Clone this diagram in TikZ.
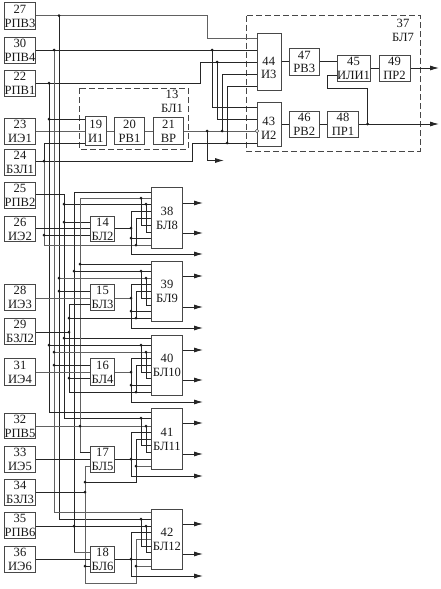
\documentclass[tikz,border=0pt]{standalone}
\usepackage{fontspec}
\setmainfont{Liberation Serif}
\usetikzlibrary{arrows.meta,calc}
\tikzset{
  wire/.style={line width=0.8pt,draw=black!85},
  gwire/.style={line width=1pt,draw=black!62},
  box/.style={draw=black!72,line width=1pt,anchor=north west,inner sep=0pt,align=center,
    font=\fontsize{12.6}{13.8}\selectfont,text=black!90},
  frame/.style={draw=black!72,line width=0.9pt,dash pattern=on 6pt off 3pt},
  lab/.style={inner sep=0pt,align=center,font=\fontsize{12.6}{13.8}\selectfont,text=black!90},
  dot/.style={circle,fill=black!90,draw=none,inner sep=0pt,minimum size=3pt},
  outarrow/.style={wire,-{Latex[length=9pt,width=5pt]}},
}
\newcommand{\mybox}[6]{\node[box,minimum width=#3,minimum height=#4] (#1) at (#2) {#5\\#6};}
\begin{document}
\begin{tikzpicture}[x=1pt,y=-1pt]
\useasboundingbox (0,0) rectangle (441,589);
% dashed frames
\draw[frame] (79,88) rectangle (188,149);
\draw[frame] (246.5,15.5) rectangle (420,151);
\node[lab] (l13) at (172,101) {13\\БЛ1};
\node[lab] (l37) at (403,30) {37\\БЛ7};
% left boxes
\mybox{b27}{4,2}{31}{27}{27}{РПВ3}
\mybox{b30}{4,37}{31}{26}{30}{РПВ4}
\mybox{b22}{4,70}{31}{26}{22}{РПВ1}
\mybox{b23}{4,118}{31}{26}{23}{ИЭ1}
\mybox{b24}{4,149}{31}{26}{24}{БЗЛ1}
\mybox{b25}{4,182}{31}{26}{25}{РПВ2}
\mybox{b26}{4,216}{31}{25}{26}{ИЭ2}
\mybox{b28}{4,284}{31}{26}{28}{ИЭ3}
\mybox{b29}{4,318}{31}{26}{29}{БЗЛ2}
\mybox{b31}{4,358}{31}{27}{31}{ИЭ4}
\mybox{b32}{4,413}{31}{25}{32}{РПВ5}
\mybox{b33}{4,446}{31}{26}{33}{ИЭ5}
\mybox{b34}{4,479}{31}{26}{34}{БЗЛ3}
\mybox{b35}{4,512}{31}{26}{35}{РПВ6}
\mybox{b36}{4,546}{31}{26}{36}{ИЭ6}
% top blocks
\mybox{b19}{84.5,116}{21.5}{29}{19}{И1}
\mybox{b20}{114,117}{30}{27}{20}{РВ1}
\mybox{b21}{153,117}{30}{27}{21}{ВР}
\node[box,minimum width=23.5,minimum height=57] (b44) at (257,33) {};
\node[lab] (t44) at (268.75,68) {44\\И3};
\node[box,minimum width=23.5,minimum height=44] (b43) at (257,102) {};
\node[lab] (t43) at (268.75,128) {43\\И2};
\mybox{b47}{289,48}{29.5}{27}{47}{РВ3}
\mybox{b46}{289,111}{29.5}{26}{46}{РВ2}
\mybox{b48}{327,111}{31}{26}{48}{ПР1}
\mybox{b45}{336.5,55}{33}{26}{45}{ИЛИ1}
\mybox{b49}{378.5,55}{31}{26}{49}{ПР2}
% small blocks
\mybox{b14}{90,216}{24}{25}{14}{БЛ2}
\mybox{b15}{90,284}{24}{26}{15}{БЛ3}
\mybox{b16}{90,358}{24}{27}{16}{БЛ4}
\mybox{b17}{90,446}{24}{26}{17}{БЛ5}
\mybox{b18}{90,546}{24}{26}{18}{БЛ6}
% large blocks
\mybox{b38}{151,187}{31}{61}{38}{БЛ8}
\mybox{b39}{151,261}{31}{60}{39}{БЛ9}
\mybox{b40}{151,335}{31}{60}{40}{БЛ10}
\mybox{b41}{151,408}{31}{61}{41}{БЛ11}
\mybox{b42}{151,509}{31}{60}{42}{БЛ12}
% upper wiring
\draw[gwire] (b27.east |- 0,15.7) -| (207,38.5) -- (b44.west |- 0,38.5);
\draw[wire] (b30.east |- 0,50) -- (b44.west |- 0,50);
\draw[wire] (b22.east |- 0,83) -| (200.5,62) -- (b44.west |- 0,62);
\draw[wire] (212,50) |- (b43.west |- 0,107);
\draw[wire] (217,62) |- (b43.west |- 0,119);
\draw[gwire] (b23.east |- 0,131) -- (b19.west |- 0,131);
\draw[gwire] (b19.east |- 0,131) -- (b20.west |- 0,131);
\draw[gwire] (b20.east |- 0,131) -- (b21.west |- 0,131);
\draw[gwire] (b21.east |- 0,131) -- (b43.west |- 0,131);
\draw[wire] (b24.east |- 0,161) -| (192,143) -- (b43.west |- 0,143);
\draw[wire] (222,131) |- (b44.west |- 0,74.5);
\draw[wire] (227,143) |- (b44.west |- 0,86);
\draw[outarrow] (207,131) |- (224,160.5);
\draw[wire] (b44.east |- 0,61) -- (b47.west |- 0,61);
\draw[wire] (b47.east |- 0,61) -- (b45.west |- 0,61);
\draw[wire] (b45.east |- 0,68) -- (b49.west |- 0,68);
\draw[outarrow] (b49.east |- 0,68) -- (439,68);
\draw[wire] (b43.east |- 0,124) -- (b46.west |- 0,124);
\draw[wire] (b46.east |- 0,124) -- (b48.west |- 0,124);
\draw[outarrow] (b48.east |- 0,124) -- (439,124);
\draw[wire] (367.5,124) -- (367.5,88) -- (327.5,88) -- (327.5,75) -- (b45.west |- 0,75);
\node[circle,draw=black!70,fill=white,line width=0.6pt,inner sep=0pt,minimum size=3.6pt] (inv) at (257,131) {};
% buses
\draw[wire] (59,15.7) |- (b42.west |- 0,519);
\draw[gwire] (54,50) |- (b42.west |- 0,512);
\draw[wire] (49,83) |- (b41.west |- 0,412);
\draw[wire] (49,119) -- (b19.west |- 0,119);
\draw[wire] (44,161) -- (44,143) -- (b19.west |- 0,143);
\draw[gwire] (44,161) |- (b38.west |- 0,245);
\draw[wire] (44,235) -- (b14.west |- 0,235);
\draw[wire] (b25.east |- 0,194) -| (64,418) -- (b41.west |- 0,418);
\draw[wire] (64,204) -- (b38.west |- 0,204);
\draw[wire] (64,222) -- (b14.west |- 0,222);
\draw[wire] (64,338) -- (b40.west |- 0,338);
\draw[wire] (b26.east |- 0,228) -- (b14.west |- 0,228);
\draw[wire] (74,552) -- (74,192) -- (b38.west |- 0,192);
\draw[gwire] (b18.west |- 0,552) -- (74,552);
\draw[gwire] (80,452) -- (80,198) -- (b38.west |- 0,198);
\draw[wire] (80,452) -- (b17.west |- 0,452);
\draw[wire] (80,264) -- (b39.west |- 0,264);
\draw[wire] (74,271) -- (b39.west |- 0,271);
\draw[gwire] (59,278) -- (b39.west |- 0,278);
\draw[wire] (59,291) -- (b15.west |- 0,291);
\draw[gwire] (b28.east |- 0,298) -- (b15.west |- 0,298);
\draw[wire] (b15.west |- 0,304) -| (69,392) -- (b40.west |- 0,392);
\draw[wire] (69,318) -- (b39.west |- 0,318);
\draw[wire] (b29.east |- 0,332) -- (69,332);
\draw[wire] (69,378) -- (b16.west |- 0,378);
\draw[wire] (49,345) -- (b40.west |- 0,345);
\draw[gwire] (54,352) -- (b40.west |- 0,352);
\draw[wire] (54,365) -- (b16.west |- 0,365);
\draw[gwire] (b31.east |- 0,372) -- (b16.west |- 0,372);
\draw[gwire] (b32.east |- 0,426) -- (b41.west |- 0,426);
\draw[wire] (b33.east |- 0,459) -- (b17.west |- 0,459);
\draw[wire] (b34.east |- 0,492) -- (85,492);
\draw[gwire] (b17.west |- 0,466) -- (85,466) -- (85,583) -| (136,539) -- (b42.west |- 0,539);
\draw[wire] (85,482) -- (136,482) -- (136,439) -- (b41.west |- 0,439);
\draw[wire] (85,566) -- (b18.west |- 0,566);
\draw[wire] (b35.east |- 0,526) -- (b42.west |- 0,526);
\draw[wire] (b36.east |- 0,559) -- (b18.west |- 0,559);
% block 38
\draw[wire] (141,198) |- (b38.west |- 0,225);
\draw[wire] (146,204) |- (b38.west |- 0,232);
\draw[wire] (b14.east |- 0,228) -- (131,228);
\draw[wire] (b38.west |- 0,211) -- (131,211) -- (131,254);
\draw[outarrow] (131,254) -- (203,254);
\draw[wire] (131,238) -- (b38.west |- 0,238);
\draw[wire] (b38.west |- 0,218) -- (136,218) -- (136,245);
\draw[outarrow] (b38.east |- 0,203) -- (203,203);
\draw[outarrow] (b38.east |- 0,233) -- (203,233);
% block 39
\draw[wire] (141,271) |- (b39.west |- 0,298);
\draw[wire] (146,278) |- (b39.west |- 0,305);
\draw[gwire] (b15.east |- 0,298) -- (131,298);
\draw[wire] (b39.west |- 0,284) -- (131,284) -- (131,328);
\draw[outarrow] (131,328) -- (203,328);
\draw[wire] (131,311) -- (b39.west |- 0,311);
\draw[wire] (b39.west |- 0,291) -- (136,291) -- (136,318);
\draw[outarrow] (b39.east |- 0,276) -- (203,276);
\draw[outarrow] (b39.east |- 0,307) -- (203,307);
% block 40
\draw[wire] (141,345) |- (b40.west |- 0,372);
\draw[wire] (146,352) |- (b40.west |- 0,378);
\draw[gwire] (b16.east |- 0,372) -- (131,372);
\draw[wire] (b40.west |- 0,358) -- (131,358) -- (131,402);
\draw[outarrow] (131,402) -- (203,402);
\draw[wire] (131,385) -- (b40.west |- 0,385);
\draw[wire] (b40.west |- 0,365) -- (136,365) -- (136,392);
\draw[outarrow] (b40.east |- 0,350) -- (203,350);
\draw[outarrow] (b40.east |- 0,380) -- (203,380);
% block 41
\draw[wire] (141,418) |- (b41.west |- 0,445);
\draw[wire] (146,426) |- (b41.west |- 0,452);
\draw[wire] (b17.east |- 0,459) -- (b41.west |- 0,459);
\draw[wire] (b41.west |- 0,432) -- (131,432) -- (131,476);
\draw[outarrow] (131,476) -- (203,476);
\draw[gwire] (136,466) -- (b41.west |- 0,466);
\draw[outarrow] (b41.east |- 0,423) -- (203,423);
\draw[outarrow] (b41.east |- 0,454) -- (203,454);
% block 42
\draw[wire] (141,519) |- (b42.west |- 0,546);
\draw[wire] (146,526) |- (b42.west |- 0,552);
\draw[wire] (b18.east |- 0,559) -- (b42.west |- 0,559);
\draw[wire] (b42.west |- 0,532) -- (131,532) -- (131,576);
\draw[outarrow] (131,576) -- (203,576);
\draw[gwire] (136,566) -- (b42.west |- 0,566);
\draw[outarrow] (b42.east |- 0,524) -- (203,524);
\draw[outarrow] (b42.east |- 0,554) -- (203,554);
% junction dots
\foreach \px/\py in {59/15.7, 54/50, 49/83, 49/119, 44/161, 207/131, 222/131, 227/143, 212/50, 217/62, 367.5/124,
 64/204, 64/222, 44/235, 141/198, 146/204, 131/228, 131/238, 136/245,
 80/264, 74/271, 59/278, 59/291, 141/271, 146/278, 131/298, 131/311, 136/318, 69/318, 69/332,
 64/338, 49/345, 54/352, 141/345, 146/352, 54/365, 69/378, 131/372, 131/385, 136/392,
 141/418, 80/426, 146/426, 131/459, 136/466, 85/482, 85/492,
 141/519, 74/526, 146/526, 131/559, 136/566, 85/566}{
  \node[dot] at (\px,\py) {};
}
\end{tikzpicture}
\end{document}
